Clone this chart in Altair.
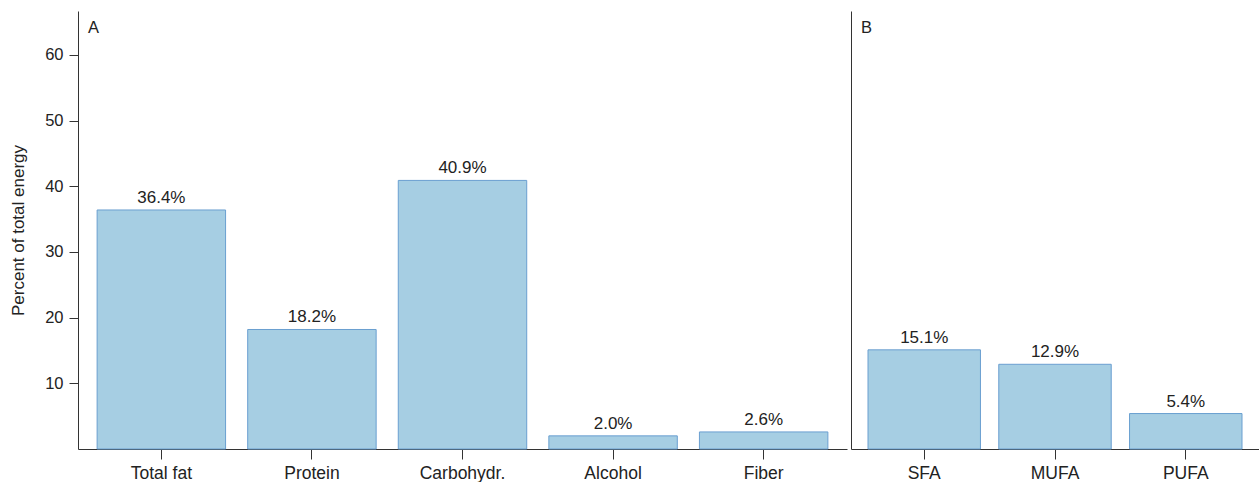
import altair as alt
import pandas as pd

# Energy contribution of macronutrients (panel A) and fatty-acid classes (panel B)
macro_names = ["Total fat", "Protein", "Carbohydr.", "Alcohol", "Fiber"]
macro_values = [36.4, 18.2, 40.9, 2.0, 2.6]

fatty_names = ["SFA", "MUFA", "PUFA"]
fatty_values = [15.1, 12.9, 5.4]

y_ticks = [10, 20, 30, 40, 50, 60]
y_max = 66.7

FONT = "Liberation Sans"
BAR_FILL = "#a6cee3"
BAR_STROKE = "#6a9fd0"
TEXT_COLOR = "#222222"
AXIS_COLOR = "#333333"
PLOT_H = 438


def make_frame(names, values):
    return pd.DataFrame({
        "item": names,
        "value": values,
        "label": [f"{v:.1f}%" for v in values],
    })


def panel(names, values, letter, width, pad_inner, pad_outer, show_y_axis):
    df = make_frame(names, values)
    x_enc = alt.X(
        "item:N",
        sort=names,
        scale=alt.Scale(paddingInner=pad_inner, paddingOuter=pad_outer),
        axis=alt.Axis(
            title=None, labelAngle=0, labelFontSize=17.5, tickSize=10,
            labelPadding=5, labelColor=TEXT_COLOR, domainColor=AXIS_COLOR,
            tickColor=AXIS_COLOR, labelFont=FONT,
        ),
    )
    if show_y_axis:
        y_axis = alt.Axis(
            title="Percent of total energy", values=y_ticks, grid=False,
            labelFontSize=16.5, titleFontSize=17, titleFontWeight="normal",
            tickSize=9, labelPadding=6, titlePadding=17,
            labelColor=TEXT_COLOR, titleColor=TEXT_COLOR,
            domainColor=AXIS_COLOR, tickColor=AXIS_COLOR,
            labelFont=FONT, titleFont=FONT,
        )
    else:
        y_axis = alt.Axis(
            title=None, labels=False, ticks=False, grid=False,
            domainColor=AXIS_COLOR,
        )
    y_enc = alt.Y(
        "value:Q",
        scale=alt.Scale(domain=[0, y_max], nice=False, zero=True),
        axis=y_axis,
    )

    base = alt.Chart(df)
    bars = base.mark_bar(
        fill=BAR_FILL, stroke=BAR_STROKE, strokeWidth=1
    ).encode(x=x_enc, y=y_enc)
    labels = base.mark_text(
        baseline="bottom", dy=-3, fontSize=17, font=FONT, color=TEXT_COLOR
    ).encode(x=alt.X("item:N", sort=names), y="value:Q", text="label:N")
    tag = alt.Chart(pd.DataFrame({"tag": [letter]})).mark_text(
        align="left", baseline="alphabetic", fontSize=16.5, font=FONT,
        color=TEXT_COLOR,
    ).encode(x=alt.value(10), y=alt.value(22), text="tag:N")

    return alt.layer(bars, labels, tag).properties(width=width, height=PLOT_H)


panel_a = panel(macro_names, macro_values, "A", 769, 0.147, 0.127, True)
panel_b = panel(fatty_names, fatty_values, "B", 408, 0.14, 0.13, False)

chart = (
    alt.hconcat(panel_a, panel_b, spacing=4)
    .properties(padding={"left": 9, "top": 11, "right": 0, "bottom": 0})
    .configure(background="white")
    .configure_view(stroke=None)
)

chart.save("out.html", embed_options={"renderer": "svg", "actions": False})
